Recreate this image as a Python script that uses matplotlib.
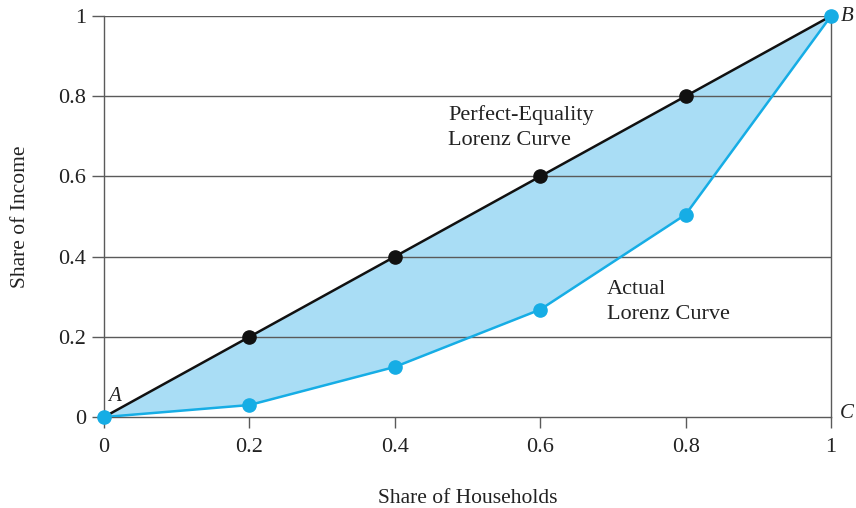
import matplotlib
matplotlib.use("Agg")
import matplotlib.pyplot as plt

plt.rcParams['font.family'] = ['Liberation Serif', 'DejaVu Serif']

households = [0, 0.2, 0.4, 0.6, 0.8, 1.0]
equality = [0, 0.2, 0.4, 0.6, 0.8, 1.0]
actual = [0, 0.03, 0.125, 0.268, 0.505, 1.0]
ticks = [0, 0.2, 0.4, 0.6, 0.8, 1]
tick_labels = ['0', '0.2', '0.4', '0.6', '0.8', '1']

fig = plt.figure(figsize=(8.56, 5.08), dpi=100)
ax = fig.add_axes([0.1215, 0.179, 0.8493, 0.7895])

blue = '#16ADE5'
fill = '#A9DDF5'
grid = '#5a5a5a'
txt = '#222222'

ax.fill_between(households, equality, actual, color=fill, zorder=1, lw=0)
for y in ticks[1:]:
    ax.axhline(y, color=grid, lw=1.0, zorder=2)
ax.plot(households, equality, color='#111111', lw=1.8, zorder=3)
ax.plot(households[1:-1], equality[1:-1], 'o', color='#111111', ms=9.5, zorder=4)
ax.plot(households, actual, color=blue, lw=1.8, zorder=3)
ax.plot(households, actual, 'o', color=blue, ms=9.5, zorder=5, clip_on=False)

ax.set_xlim(0, 1)
ax.set_ylim(0, 1)
ax.set_xticks(ticks)
ax.set_xticklabels(tick_labels)
ax.set_yticks(ticks)
ax.set_yticklabels(tick_labels)
ax.spines['top'].set_visible(False)
for s in ['left', 'right', 'bottom']:
    ax.spines[s].set_color(grid)
    ax.spines[s].set_linewidth(1.0)
ax.tick_params(axis='both', colors=grid, labelcolor=txt, labelsize=16, width=1.0)
ax.tick_params(axis='y', length=9, pad=4)
ax.tick_params(axis='x', length=8, pad=7)

ax.set_xlabel('Share of Households', fontsize=15.5, color=txt, labelpad=23)
ax.set_ylabel('Share of Income', fontsize=15.5, color=txt, labelpad=20)

ax.text(0.473, 0.778, 'Perfect-Equality\nLorenz Curve', fontsize=16, color=txt,
        va='top', ha='left', linespacing=1.4)
ax.text(0.692, 0.342, 'Actual\nLorenz Curve', fontsize=16, color=txt,
        va='top', ha='left', linespacing=1.4)
ax.text(0.006, 0.028, 'A', fontsize=15, style='italic', color=txt, va='bottom', ha='left')
ax.text(1.014, 1.0, 'B', fontsize=15, style='italic', color=txt, va='center', ha='left')
ax.text(1.012, 0.01, 'C', fontsize=15, style='italic', color=txt, va='center', ha='left')

fig.savefig('out.png', dpi=100)
